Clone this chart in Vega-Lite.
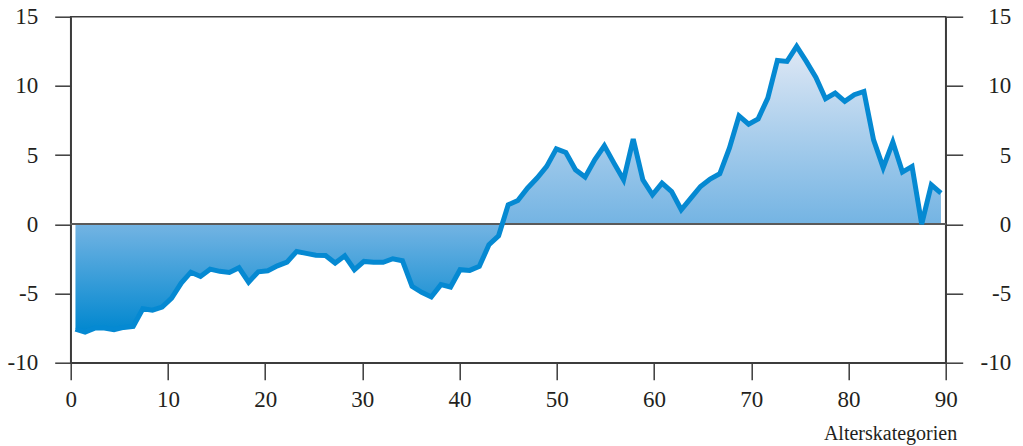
{
  "$schema": "https://vega.github.io/schema/vega-lite/v6.json",
  "width": 875,
  "height": 346,
  "autosize": {"type": "none"},
  "padding": {"left": 70.7, "top": 16.7, "right": 77.3, "bottom": 83.3},
  "background": "white",
  "config": {
    "view": {"stroke": "#3c3c3c", "strokeWidth": 1.5},
    "font": "'Liberation Serif', 'Times New Roman', Times, serif",
    "axis": {
      "labelFont": "'Liberation Serif', 'Times New Roman', Times, serif",
      "labelFontSize": 23,
      "labelColor": "#231f20",
      "titleFont": "'Liberation Serif', 'Times New Roman', Times, serif",
      "titleFontSize": 20,
      "titleFontWeight": "normal",
      "titleColor": "#231f20",
      "domainColor": "#3c3c3c",
      "domainWidth": 1.5,
      "tickColor": "#3c3c3c",
      "tickWidth": 1.5,
      "grid": false,
      "labelFlush": false,
      "labelOverlap": false
    }
  },
  "data": {
    "values": [
      {"x": 0.49, "y": -7.57}, {"x": 1.48, "y": -7.79}, {"x": 2.47, "y": -7.5}, {"x": 3.46, "y": -7.5},
      {"x": 4.45, "y": -7.62}, {"x": 5.44, "y": -7.45}, {"x": 6.43, "y": -7.38}, {"x": 7.42, "y": -6.1},
      {"x": 8.41, "y": -6.2}, {"x": 9.4, "y": -5.98}, {"x": 10.38, "y": -5.33}, {"x": 11.37, "y": -4.25},
      {"x": 12.36, "y": -3.46}, {"x": 13.35, "y": -3.77}, {"x": 14.34, "y": -3.24}, {"x": 15.33, "y": -3.4},
      {"x": 16.32, "y": -3.48}, {"x": 17.31, "y": -3.14}, {"x": 18.3, "y": -4.18}, {"x": 19.29, "y": -3.43},
      {"x": 20.27, "y": -3.36}, {"x": 21.26, "y": -3.0}, {"x": 22.25, "y": -2.73}, {"x": 23.24, "y": -1.96},
      {"x": 24.23, "y": -2.1}, {"x": 25.22, "y": -2.23}, {"x": 26.21, "y": -2.25}, {"x": 27.2, "y": -2.8},
      {"x": 28.19, "y": -2.28}, {"x": 29.18, "y": -3.28}, {"x": 30.16, "y": -2.68}, {"x": 31.15, "y": -2.75},
      {"x": 32.14, "y": -2.75}, {"x": 33.13, "y": -2.49}, {"x": 34.12, "y": -2.63}, {"x": 35.11, "y": -4.48},
      {"x": 36.1, "y": -4.91}, {"x": 37.09, "y": -5.25}, {"x": 38.08, "y": -4.36}, {"x": 39.07, "y": -4.53},
      {"x": 40.05, "y": -3.28}, {"x": 41.04, "y": -3.33}, {"x": 42.03, "y": -3.04}, {"x": 43.02, "y": -1.48},
      {"x": 44.01, "y": -0.83}, {"x": 45.0, "y": 1.41}, {"x": 45.99, "y": 1.72}, {"x": 46.98, "y": 2.61},
      {"x": 47.97, "y": 3.34}, {"x": 48.96, "y": 4.18}, {"x": 49.95, "y": 5.45}, {"x": 50.93, "y": 5.19},
      {"x": 51.92, "y": 3.94}, {"x": 52.91, "y": 3.41}, {"x": 53.9, "y": 4.66}, {"x": 54.89, "y": 5.67},
      {"x": 55.88, "y": 4.42}, {"x": 56.87, "y": 3.22}, {"x": 57.86, "y": 6.15}, {"x": 58.85, "y": 3.22},
      {"x": 59.84, "y": 2.13}, {"x": 60.82, "y": 2.98}, {"x": 61.81, "y": 2.37}, {"x": 62.8, "y": 1.05},
      {"x": 63.79, "y": 1.89}, {"x": 64.78, "y": 2.73}, {"x": 65.77, "y": 3.27}, {"x": 66.76, "y": 3.65},
      {"x": 67.75, "y": 5.5}, {"x": 68.74, "y": 7.84}, {"x": 69.73, "y": 7.24}, {"x": 70.71, "y": 7.62},
      {"x": 71.7, "y": 9.12}, {"x": 72.69, "y": 11.84}, {"x": 73.68, "y": 11.77}, {"x": 74.67, "y": 12.85},
      {"x": 75.66, "y": 11.77}, {"x": 76.65, "y": 10.61}, {"x": 77.64, "y": 9.07}, {"x": 78.63, "y": 9.48},
      {"x": 79.62, "y": 8.88}, {"x": 80.6, "y": 9.36}, {"x": 81.59, "y": 9.6}, {"x": 82.58, "y": 6.1},
      {"x": 83.57, "y": 4.1}, {"x": 84.56, "y": 5.94}, {"x": 85.55, "y": 3.77}, {"x": 86.54, "y": 4.18},
      {"x": 87.53, "y": 0.01}, {"x": 88.52, "y": 2.85}, {"x": 89.51, "y": 2.25}
    ]
  },
  "layer": [
    {
      "mark": {
        "type": "area",
        "color": {
          "gradient": "linear",
          "x1": 0, "y1": 0, "x2": 0, "y2": 1,
          "stops": [
            {"offset": 0, "color": "#dfe8f5"},
            {"offset": 0.62, "color": "#74b4e3"},
            {"offset": 1, "color": "#0087cf"}
          ]
        }
      },
      "encoding": {
        "x": {
          "field": "x", "type": "quantitative",
          "scale": {"domain": [0, 90], "nice": false, "zero": false},
          "axis": {
            "orient": "bottom",
            "values": [0, 10, 20, 30, 40, 50, 60, 70, 80, 90],
            "tickSize": 17,
            "labelPadding": 9,
            "title": "Alterskategorien",
            "titleAnchor": "end",
            "titleAlign": "right",
            "titleX": 886,
            "titleY": 77,
            "titleBaseline": "alphabetic"
          }
        },
        "y": {
          "field": "y", "type": "quantitative",
          "scale": {"domain": [-10, 15], "nice": false, "zero": false},
          "axis": {
            "orient": "left",
            "values": [-10, -5, 0, 5, 10, 15],
            "tickSize": 16,
            "labelPadding": 17,
            "labelExpr": "'' + datum.value",
            "title": null
          }
        },
        "y2": {"datum": 0}
      }
    },
    {
      "mark": {"type": "rule", "color": "#5a5a5a", "strokeWidth": 1.5},
      "encoding": {"y": {"datum": 0, "type": "quantitative", "axis": null}}
    },
    {
      "mark": {"type": "line", "color": "#0589d2", "strokeWidth": 5},
      "encoding": {
        "x": {"field": "x", "type": "quantitative"},
        "y": {
          "field": "y", "type": "quantitative",
          "axis": {
            "orient": "right",
            "values": [-10, -5, 0, 5, 10, 15],
            "tickSize": 17,
            "labelAlign": "right",
            "labelPadding": 48,
            "labelExpr": "'' + datum.value",
            "title": null
          }
        }
      }
    }
  ],
  "resolve": {"axis": {"y": "independent"}}
}
